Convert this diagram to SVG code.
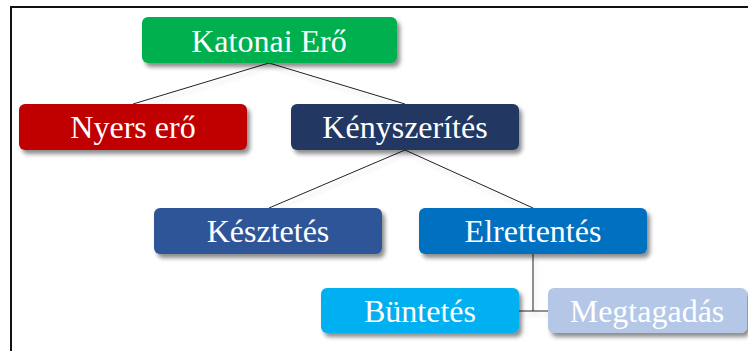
<svg xmlns="http://www.w3.org/2000/svg" width="748" height="351" viewBox="0 0 748 351">
<defs>
<filter id="sh" x="-10%" y="-20%" width="130%" height="160%">
<feDropShadow dx="3" dy="4" stdDeviation="2" flood-color="#000" flood-opacity="0.45"/>
</filter>
<filter id="lsh" x="-10%" y="-10%" width="130%" height="140%">
<feDropShadow dx="2" dy="4" stdDeviation="2" flood-color="#000" flood-opacity="0.15"/>
</filter>
</defs>
<style>
.n{filter:url(#sh)}
.t{font-family:"Liberation Serif","Times New Roman",serif;font-size:32px;fill:#fff;text-anchor:middle}
.c{stroke:#222;stroke-width:1;fill:none}
</style>
<rect x="0" y="0" width="748" height="351" fill="#fff"/>
<path d="M11 351 V7 H748" fill="none" stroke="#111" stroke-width="2"/>
<g id="connectors" filter="url(#lsh)">
<path class="c" d="M269 63 L133 104"/>
<path class="c" d="M269 63 L405 104"/>
<path class="c" d="M405 150 L269 208"/>
<path class="c" d="M405 150 L533 208"/>
<path class="c" d="M533 254 V311"/>
<path class="c" d="M519 311 H548"/>
</g>
<g id="katonai-ero">
<rect class="n" x="142" y="17" width="255" height="46" rx="6" fill="#00B050"/>
<text class="t" x="269" y="52">Katonai Erő</text>
</g>
<g id="nyers-ero">
<rect class="n" x="19" y="104" width="228" height="46" rx="6" fill="#C00000"/>
<text class="t" x="133" y="138">Nyers erő</text>
</g>
<g id="kenyszerites">
<rect class="n" x="291" y="104" width="228" height="46" rx="6" fill="#203864"/>
<text class="t" x="405" y="138">Kényszerítés</text>
</g>
<g id="keszetetes">
<rect class="n" x="154" y="208" width="228" height="46" rx="6" fill="#2F5597"/>
<text class="t" x="268" y="242">Késztetés</text>
</g>
<g id="elrettentes">
<rect class="n" x="419" y="208" width="228" height="46" rx="6" fill="#0070C0"/>
<text class="t" x="533" y="242">Elrettentés</text>
</g>
<g id="buntetes">
<rect class="n" x="321" y="288" width="198" height="45" rx="6" fill="#00B0F0"/>
<text class="t" x="420" y="322">Büntetés</text>
</g>
<g id="megtagadas">
<rect class="n" x="548" y="288" width="199" height="45" rx="6" fill="#B4C7E7"/>
<text class="t" x="647" y="322">Megtagadás</text>
</g>
</svg>
